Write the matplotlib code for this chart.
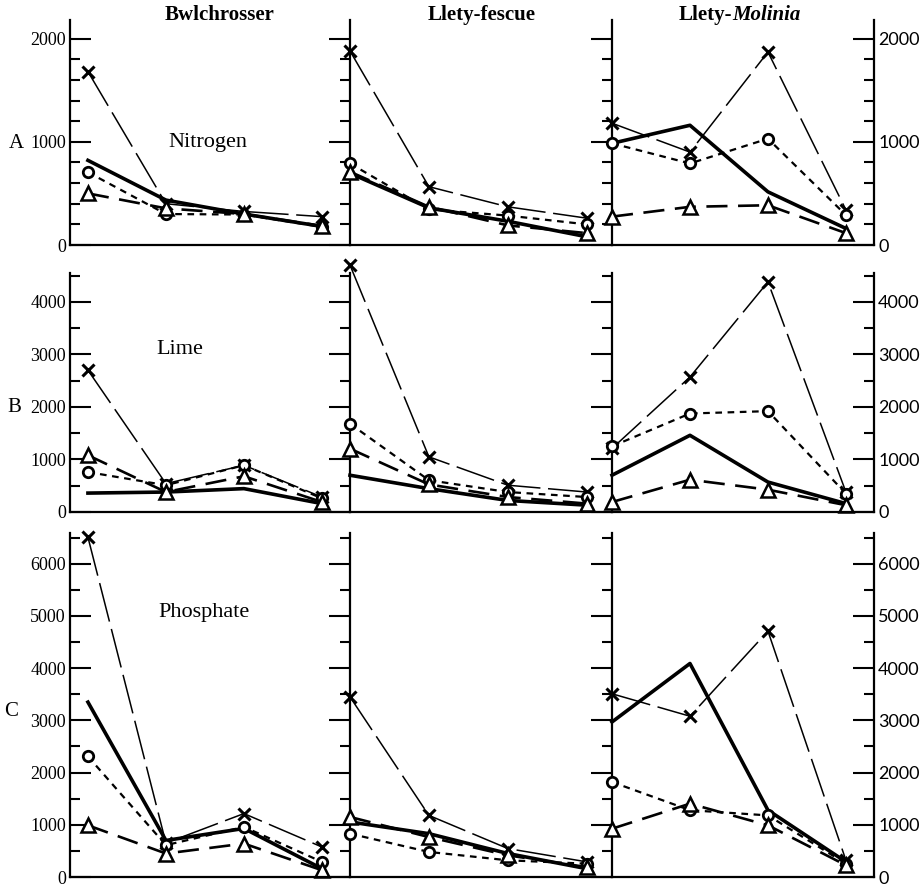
import matplotlib.pyplot as plt
from matplotlib.ticker import MultipleLocator

plt.rcParams['font.family'] = ['Liberation Serif', 'DejaVu Serif']

# Columns (sites) and rows (nutrients)
SITES = ["Bwlchrosser", "Llety-fescue", "Llety-Molinia"]
NUTRIENTS = ["Nitrogen", "Lime", "Phosphate"]
ROW_LETTERS = ["A", "B", "C"]
X_POS = [0, 1, 2, 3]

# Nitrogen values, one list per site: [Bwlchrosser, Llety-fescue, Llety-Molinia]
nitrogen_cross = [[1680, 400, 325, 275], [1880, 565, 370, 260], [1180, 900, 1870, 340]]
nitrogen_solid = [[820, 435, 300, 180], [695, 360, 230, 80], [985, 1160, 515, 160]]
nitrogen_circle = [[705, 300, 295, 175], [790, 345, 285, 200], [985, 790, 1030, 290]]
nitrogen_triangle = [[500, 355, 300, 185], [710, 370, 190, 115], [275, 370, 385, 115]]

# Lime values
lime_cross = [[2700, 540, 890, 285], [4700, 1050, 510, 380], [1210, 2570, 4380, 380]]
lime_solid = [[360, 380, 445, 160], [700, 445, 220, 130], [700, 1460, 570, 160]]
lime_circle = [[760, 510, 890, 260], [1680, 605, 380, 285], [1250, 1875, 1920, 350]]
lime_triangle = [[1080, 380, 680, 190], [1205, 525, 285, 160], [190, 615, 425, 130]]

# Phosphate values
phosphate_cross = [[6510, 650, 1215, 575], [3450, 1180, 545, 290], [3510, 3080, 4710, 320]]
phosphate_solid = [[3350, 700, 930, 160], [1055, 830, 450, 160], [2970, 4090, 1280, 290]]
phosphate_circle = [[2310, 610, 960, 290], [830, 480, 320, 255], [1820, 1280, 1180, 255]]
phosphate_triangle = [[990, 450, 640, 130], [1150, 765, 415, 190], [925, 1405, 990, 225]]

ROW_DATA = [
    (nitrogen_cross, nitrogen_solid, nitrogen_circle, nitrogen_triangle),
    (lime_cross, lime_solid, lime_circle, lime_triangle),
    (phosphate_cross, phosphate_solid, phosphate_circle, phosphate_triangle),
]

W, H = 924, 889
fig = plt.figure(figsize=(W / 100, H / 100), dpi=100)
fig.patch.set_facecolor("white")

# Layout in pixels: (top, bottom, ymax) per row, (left, right, xmin, xmax) per column
ROW_BOX = [(20, 245, 2180), (273, 512, 4550), (533, 877, 6590)]
COL_BOX = [(70, 350, -0.23, 3.36), (350, 612, 0, 3.32), (612, 874, 0, 3.36)]


def px(x, y):
    return x / W, 1 - y / H


for r, (top, bottom, ymax) in enumerate(ROW_BOX):
    cross, solid, circle, triangle = ROW_DATA[r]
    for c, (left, right, xmin, xmax) in enumerate(COL_BOX):
        ax = fig.add_axes([left / W, 1 - bottom / H, (right - left) / W, (bottom - top) / H])
        ax.set_facecolor("none")

        ax.plot(X_POS, cross[c], color="black", lw=1.1, dashes=(26, 5),
                marker="x", ms=9, mew=2.2, clip_on=False)
        ax.plot(X_POS, solid[c], color="black", lw=2.6, clip_on=False)
        ax.plot(X_POS, circle[c], color="black", lw=1.6, dashes=(3, 2.5),
                marker="o", ms=7.5, mew=2, mfc="white", clip_on=False)
        ax.plot(X_POS, triangle[c], color="black", lw=1.9, dashes=(8, 4),
                marker="^", ms=9.5, mew=1.8, mfc="white", clip_on=False)

        ax.set_xlim(xmin, xmax)
        ax.set_ylim(0, ymax)

        ax.yaxis.set_major_locator(MultipleLocator(1000))
        ax.yaxis.set_minor_locator(MultipleLocator(200 if r == 0 else 500))

        ax.spines["top"].set_visible(False)
        ax.spines["left"].set_visible(c == 0)
        for side in ["left", "right", "bottom"]:
            ax.spines[side].set_linewidth(1.6)

        ax.tick_params(axis="x", bottom=False, labelbottom=False)
        ax.tick_params(axis="y", which="both", direction="in", width=1.5,
                       left=(c == 0), right=True,
                       labelleft=(c == 0), labelright=(c == 2), pad=3)
        ax.tick_params(axis="y", which="major", length=15)
        ax.tick_params(axis="y", which="minor", length=7)

        for lab in ax.get_yticklabels():
            lab.set_fontsize(13)
            if c == 2:
                lab.set_family("Lato")

        if c == 0:
            lx, ly = [(208, 143), (180, 350), (204, 612)][r]
            fig.text(*px(lx, ly), NUTRIENTS[r], ha="center", va="center", fontsize=16)

# Row letters
for letter, (lx, ly) in zip(ROW_LETTERS, [(16, 143), (14, 407), (11, 712)]):
    fig.text(*px(lx, ly), letter, ha="center", va="center", fontsize=15)

# Column titles
fig.text(*px(220, 15), SITES[0], ha="center", va="center", fontsize=15, fontweight="bold")
fig.text(*px(482, 15), SITES[1], ha="center", va="center", fontsize=15, fontweight="bold")
fig.text(*px(732, 15), "Llety-", ha="right", va="center", fontsize=15, fontweight="bold")
fig.text(*px(732, 15), "Molinia", ha="left", va="center", fontsize=15,
         fontweight="bold", fontstyle="italic")

fig.savefig("out.png", dpi=100, facecolor="white")
